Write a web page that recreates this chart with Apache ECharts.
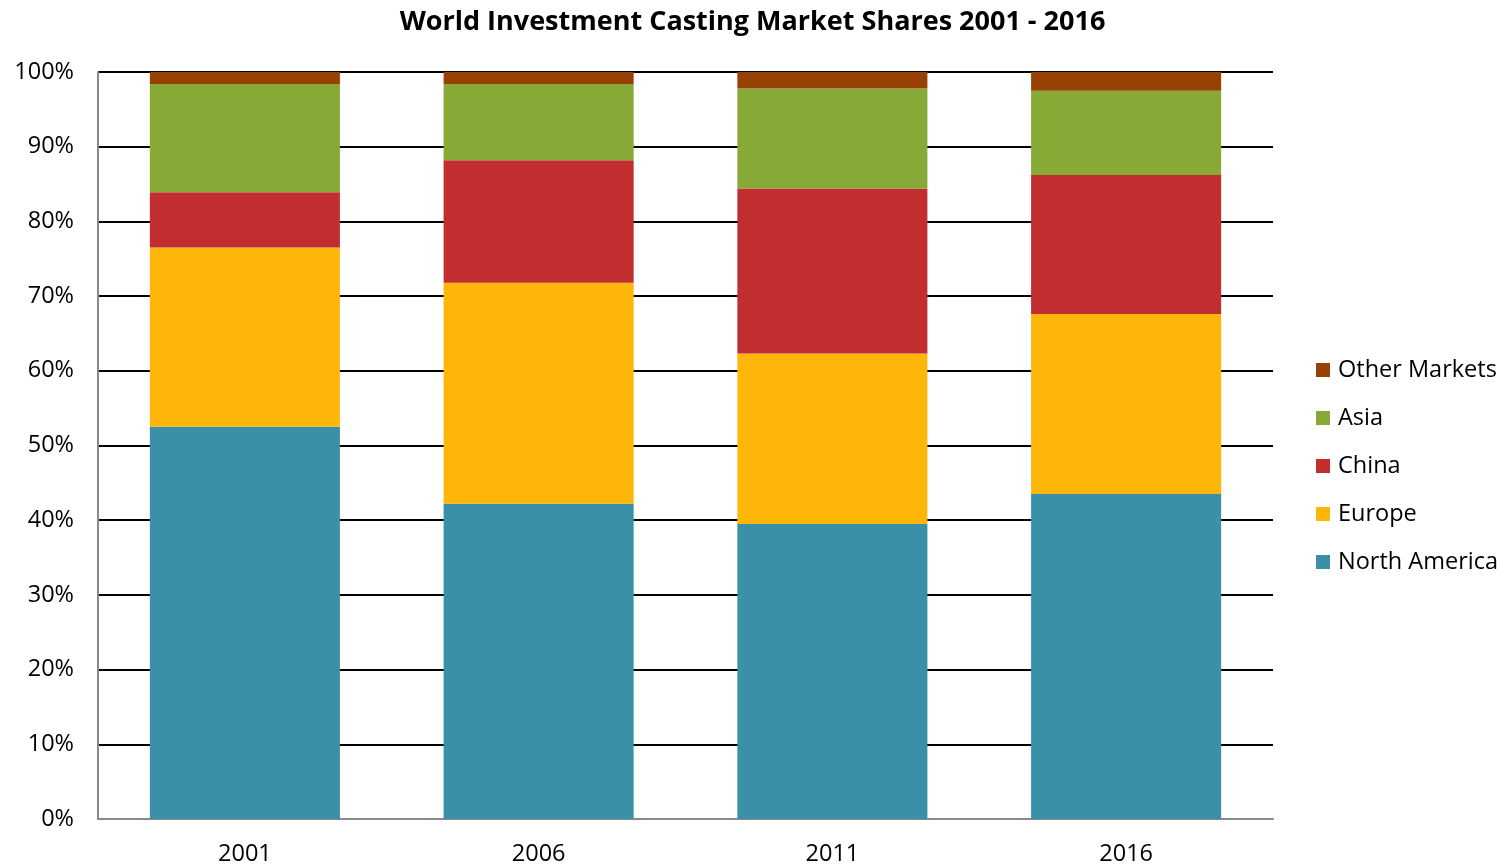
<!DOCTYPE html>
<html>
<head>
<meta charset="utf-8">
<script src="https://cdn.jsdelivr.net/npm/echarts@6/dist/echarts.min.js"></script>
<style>
  html, body { margin: 0; padding: 0; background: #fff; }
  #chart { width: 1505px; height: 866px; }
</style>
</head>
<body>
<div id="chart"></div>
<script>
var years = ["2001", "2006", "2011", "2016"];
var northAmerica = [52.5, 42.2, 39.5, 43.5];
var europe = [24.0, 29.6, 22.8, 24.1];
var china = [7.4, 16.4, 22.1, 18.6];
var asia = [14.5, 10.2, 13.4, 11.3];
var otherMarkets = [1.6, 1.6, 2.2, 2.5];

var font = "Open Sans";
var myChart = echarts.init(document.getElementById("chart"));

function bar(name, data, color) {
  return {
    name: name,
    type: "bar",
    stack: "total",
    barWidth: "64.7%",
    data: data,
    itemStyle: { color: color }
  };
}

var option = {
  backgroundColor: "#fff",
  animation: false,
  title: {
    text: "World Investment Casting Market Shares 2001 - 2016",
    left: "center",
    top: 4,
    textStyle: { fontFamily: font, fontSize: 27, fontWeight: "bold", color: "#000" }
  },
  legend: {
    orient: "vertical",
    left: 1311,
    top: 353,
    itemWidth: 14,
    itemHeight: 14,
    itemGap: 24,
    icon: "rect",
    data: ["Other Markets", "Asia", "China", "Europe", "North America"],
    textStyle: { fontFamily: font, fontSize: 23.5, color: "#000", padding: [0, 0, 0, 3] }
  },
  grid: { left: 98, right: 232, top: 72, bottom: 47 },
  xAxis: {
    type: "category",
    data: years,
    axisLine: { lineStyle: { color: "#898989", width: 2 } },
    axisTick: { show: false },
    axisLabel: { fontFamily: font, fontSize: 23.5, color: "#000", margin: 23 }
  },
  yAxis: {
    type: "value",
    min: 0,
    max: 100,
    interval: 10,
    axisLine: { show: true, lineStyle: { color: "#898989", width: 2 } },
    axisTick: { show: false },
    splitLine: { lineStyle: { color: "#000", width: 2 } },
    axisLabel: { fontFamily: font, fontSize: 23.5, color: "#000", margin: 24, formatter: "{value}%" }
  },
  series: [
    bar("North America", northAmerica, "#3A91A7"),
    bar("Europe", europe, "#FEB60B"),
    bar("China", china, "#C22D2F"),
    bar("Asia", asia, "#86AA35"),
    bar("Other Markets", otherMarkets, "#984105")
  ]
};
myChart.setOption(option);
</script>
</body>
</html>
